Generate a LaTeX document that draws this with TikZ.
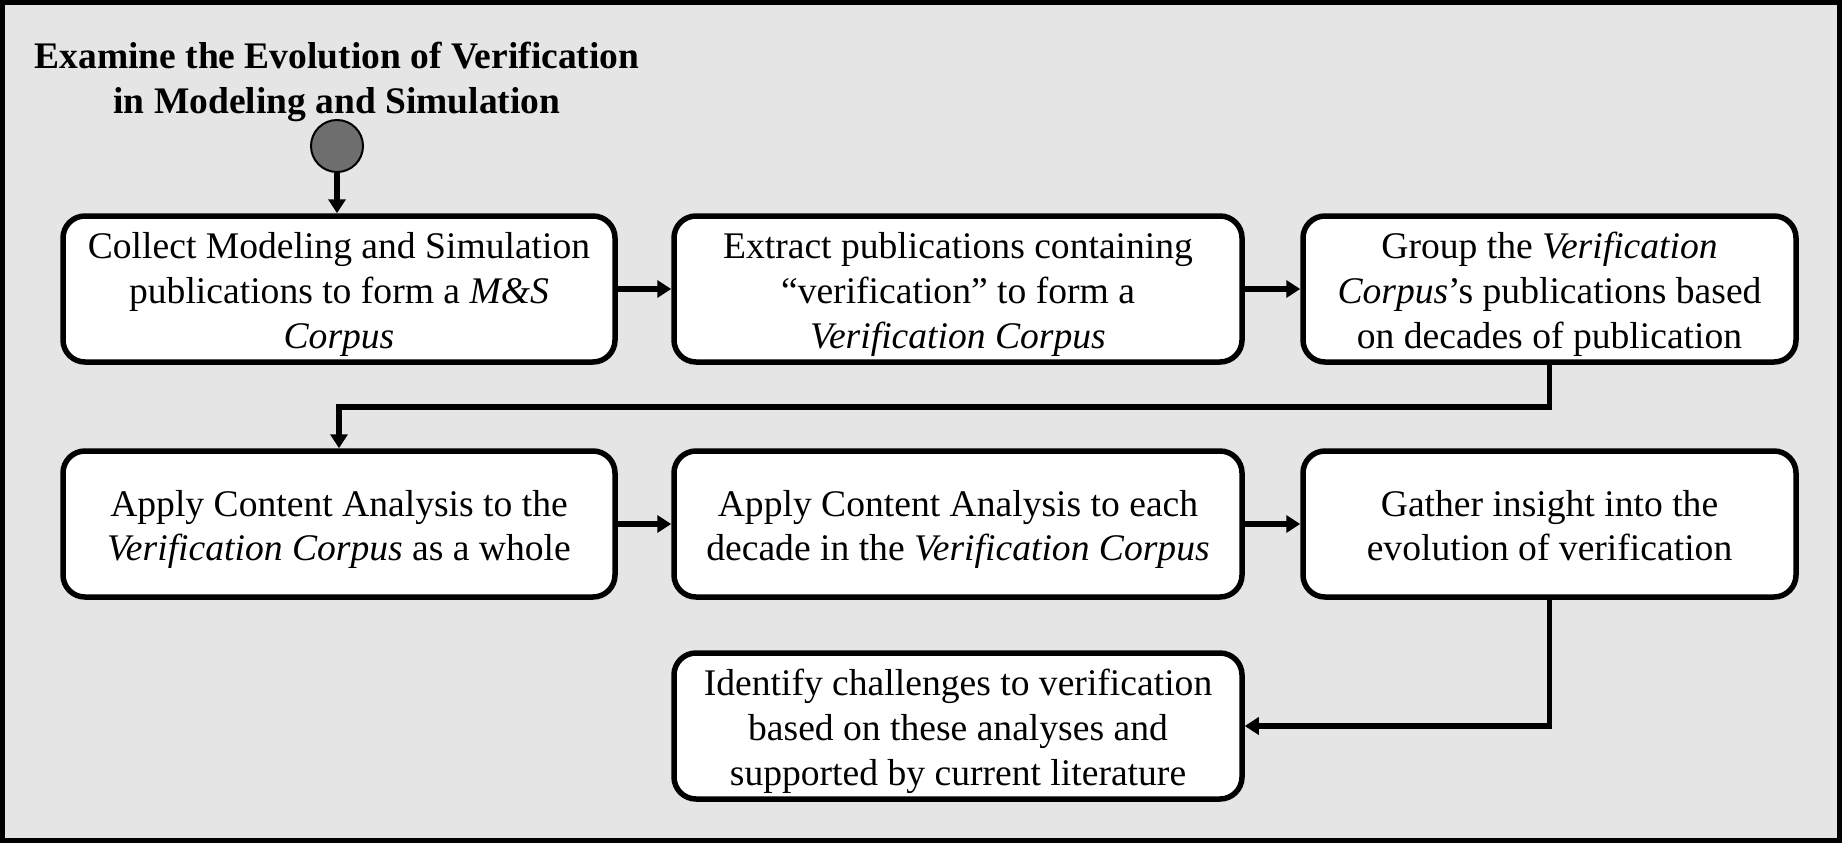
\documentclass[tikz,border=0pt]{standalone}
\usepackage{fontspec}
\setmainfont{Liberation Serif}
\usetikzlibrary{arrows.meta}
\newcommand{\topstrut}{\rule{0pt}{37pt}}
\newcommand{\botstrut}{\rule[-8pt]{0pt}{8pt}}
\begin{document}
\begin{tikzpicture}[x=1pt,y=-1pt,
  stepbox/.style={draw=black, fill=white, line width=5.5pt, rounded corners=22pt,
    align=center, minimum height=146pt, inner sep=0pt,
    font=\fontsize{37.6}{44.6}\selectfont},
  conn/.style={draw=black, line width=5.5pt, -{Triangle[length=14pt,width=17pt]}},
  start/.style={circle, draw=black, line width=2pt, fill=black!57, minimum size=52pt, inner sep=0pt},
  titletext/.style={align=center, font=\fontsize{37.5}{45}\selectfont\bfseries}]
\useasboundingbox (0,0) rectangle (1842,843);
\fill[black] (0,0) rectangle (1842,843);
\fill[black!10] (5,5) rectangle (1837,838);
\node[titletext] (title) at (337,81.5) {Examine the Evolution of Verification\\in Modeling and Simulation};
\node[start] (s) at (337,146) {};
\node[stepbox, minimum width=552pt] (b1) at (339,289) {\topstrut Collect Modeling and Simulation\\publications to form a \textit{M\&S}\\\textit{Corpus}\botstrut};
\node[stepbox, minimum width=568pt] (b2) at (958,289) {\topstrut Extract publications containing\\“verification” to form a\\\textit{Verification Corpus}\botstrut};
\node[stepbox, minimum width=493pt] (b3) at (1549.5,289) {\topstrut Group the \textit{Verification}\\\textit{Corpus}’s publications based\\on decades of publication\botstrut};
\node[stepbox, minimum width=552pt] (b4) at (339,524) {\topstrut Apply Content Analysis to the\\\textit{Verification Corpus} as a whole\botstrut};
\node[stepbox, minimum width=568pt] (b5) at (958,524) {\topstrut Apply Content Analysis to each\\decade in the \textit{Verification Corpus}\botstrut};
\node[stepbox, minimum width=493pt] (b6) at (1549.5,524) {\topstrut Gather insight into the\\evolution of verification\botstrut};
\node[stepbox, minimum width=568pt] (b7) at (958,726) {\topstrut Identify challenges to verification\\based on these analyses and\\supported by current literature\botstrut};
\draw[conn] (s) -- (b1.north -| s);
\draw[conn] (b1) -- (b2);
\draw[conn] (b2) -- (b3);
\draw[conn] (b3.south) -- ++(0,42) -| (b4.north);
\draw[conn] (b4) -- (b5);
\draw[conn] (b5) -- (b6);
\draw[conn] (b6.south) |- (b7.east);
\end{tikzpicture}
\end{document}
